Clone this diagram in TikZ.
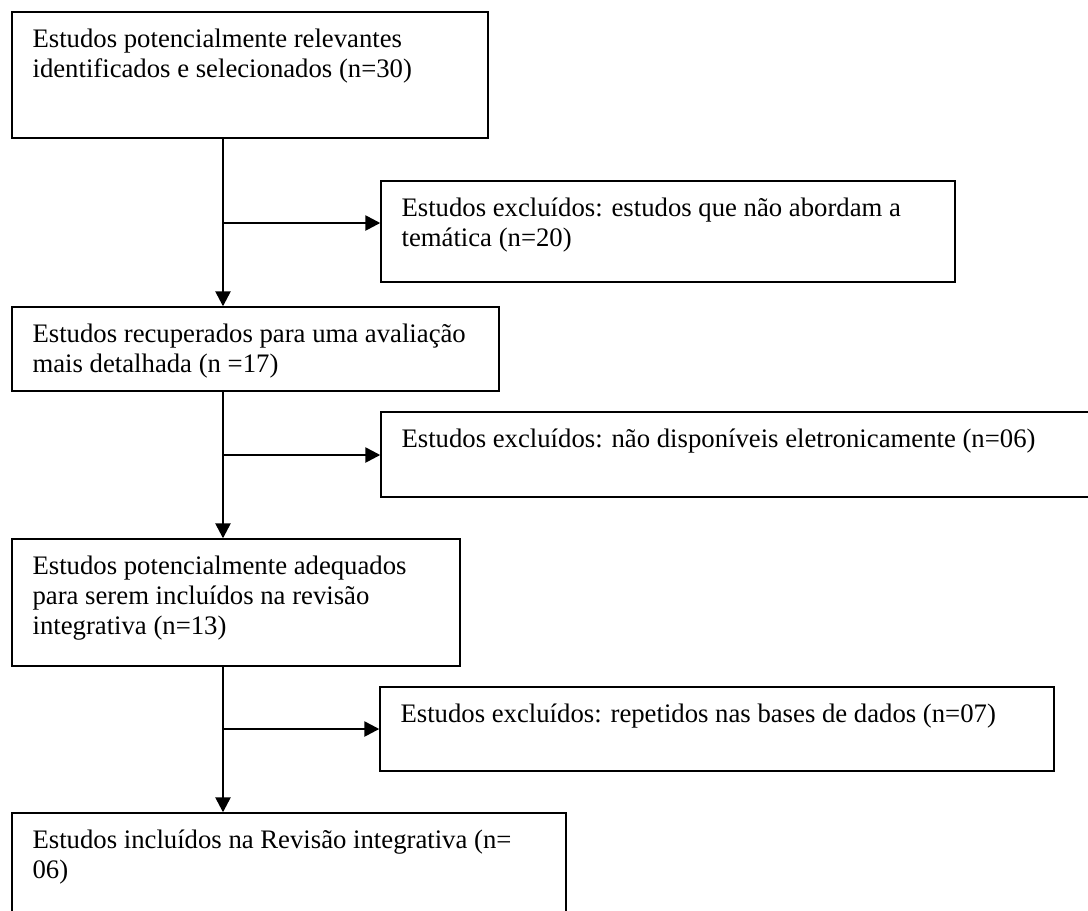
\documentclass[tikz,border=0pt]{standalone}
\usepackage{fontspec}
\setmainfont{Liberation Serif}
\usetikzlibrary{arrows.meta}

\begin{document}
\begin{tikzpicture}
[x=0.025cm,y=-0.025cm,
  boxDecorate/.style={shape=rectangle,draw,line width=1pt,inner sep=0pt},%
  textDecorate/.style={anchor=base west,inner sep=0pt,align=left,
    font=\fontsize{19}{21.34}\selectfont},%
  lineDecorate/.style={line width=1.8pt,-{Triangle[length=15*0.025cm,width=15*0.025cm]}}]
\clip (0,0) rectangle (1088,910);
%% boxes (last field: number of text lines)
\foreach \nodename/\x/\y/\w/\h/\n/\txt in {%
  relevantes/250/75/476/126/2/{Estudos potencialmente relevantes\\identificados e selecionados (n=30)},
  exclA/668/231.5/574/101/2/{Estudos excluídos: estudos que não abordam a\\temática (n=20)},
  recuperados/255.5/349/487/84/2/{Estudos recuperados para uma avaliação\\mais detalhada (n =17)},
  exclB/740.5/454.5/719/85/1/{Estudos excluídos: não disponíveis eletronicamente (n=06)},
  adequados/236/602.5/448/127/3/{Estudos potencialmente adequados\\para serem incluídos na revisão\\integrativa (n=13)},
  exclC/717/729/674/84/1/{Estudos excluídos: repetidos nas bases de dados (n=07)},
  incluidos/289/871.5/554/117/2/{Estudos incluídos na Revisão integrativa (n=\\06)}}
{
  \node (\nodename) at (\x,\y) [boxDecorate,minimum width=\w*0.025cm,minimum height=\h*0.025cm] {};
  \node (\nodename txt) at ([shift={(21,6+30*\n)}]\nodename.north west) [textDecorate] {\txt};
}
%% trunk and branch points
\coordinate (trunk) at (223,0);
\coordinate (jA) at (223,223);
\coordinate (jB) at (223,455);
\coordinate (jC) at (223,729);
%% arrows
\foreach \startnode/\endnode in {relevantes/recuperados, recuperados/adequados, adequados/incluidos}
{
  \draw[lineDecorate] (\startnode.south -| trunk) -- (\endnode.north -| trunk);
}
\foreach \jnode/\endnode in {jA/exclA, jB/exclB, jC/exclC}
{
  \draw[lineDecorate] (\jnode) -- (\jnode -| \endnode.west);
}
\end{tikzpicture}
\end{document}
